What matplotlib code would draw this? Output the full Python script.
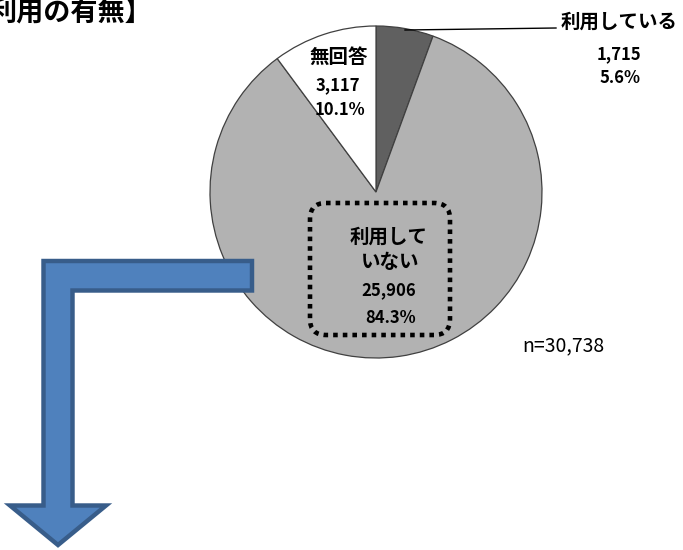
import matplotlib
matplotlib.use("Agg")
import matplotlib.pyplot as plt
from matplotlib.patches import Polygon, FancyBboxPatch

plt.rcParams['font.family'] = ['Noto Sans CJK JP', 'DejaVu Sans']

# Data
categories = ["利用している", "利用していない", "無回答"]
counts = [1715, 25906, 3117]
percents = [5.6, 84.3, 10.1]
total_label = "n=30,738"
title = "利用の有無】"

colors = ["#606060", "#B2B2B2", "#FFFFFF"]

W, H = 683, 550
fig = plt.figure(figsize=(W / 100, H / 100), dpi=100)
ax = fig.add_axes([0, 0, 1, 1])

# Pixel-like coordinate system (y grows downward), so the pie starts at -90
# and runs "counterclockwise" in data space, which is clockwise on screen.
cx, cy, r = 376, 192, 166
ax.pie(counts, colors=colors, startangle=-90, counterclock=True,
       center=(cx, cy), radius=r, frame=True,
       wedgeprops=dict(edgecolor="#404040", linewidth=0.9))
ax.set_xlim(0, W)
ax.set_ylim(H, 0)
ax.set_aspect("equal")
ax.axis("off")

def fmt(n):
    return f"{n:,}"

# Title (partially clipped at the left edge)
ax.text(-11, 13, title, fontsize=19.5, fontweight="bold", ha="left", va="center")

# Label for the small dark slice with a leader line
ax.plot([405, 556], [30, 28], color="black", lw=1.0, zorder=5)
ax.text(619, 22, categories[0], fontsize=14, fontweight="bold", ha="center", va="center")
ax.text(619, 54, fmt(counts[0]), fontsize=12, fontweight="bold", ha="center", va="center")
ax.text(620, 78, f"{percents[0]}%", fontsize=12, fontweight="bold", ha="center", va="center")

# Label for the no-answer slice
ax.text(339, 57, categories[2], fontsize=14, fontweight="bold", ha="center", va="center", zorder=5)
ax.text(338, 85, fmt(counts[2]), fontsize=12, fontweight="bold", ha="center", va="center", zorder=5)
ax.text(340, 110, f"{percents[2]}%", fontsize=12, fontweight="bold", ha="center", va="center", zorder=5)

# Dotted rounded box around the main slice label
box = FancyBboxPatch((310, 203), 140, 132,
                     boxstyle="round,pad=0,rounding_size=16",
                     facecolor="none", edgecolor="black",
                     linewidth=3.3, linestyle=(0, (1, 1.1)), zorder=5)
ax.add_patch(box)
ax.text(389, 237, "利用して", fontsize=14, fontweight="bold", ha="center", va="center", zorder=6)
ax.text(390, 263, "いない", fontsize=14, fontweight="bold", ha="center", va="center", zorder=6)
ax.text(389, 290, fmt(counts[1]), fontsize=12, fontweight="bold", ha="center", va="center", zorder=6)
ax.text(391, 318, f"{percents[1]}%", fontsize=12, fontweight="bold", ha="center", va="center", zorder=6)

# Sample size
ax.text(563, 346, total_label, fontsize=14, ha="center", va="center")

# Bent arrow pointing down
arrow_pts = [(43.5, 261), (252, 261), (252, 290.5), (72.5, 290.5),
             (72.5, 505.5), (106, 505.5), (58, 545), (10, 505.5),
             (43.5, 505.5)]
ax.add_patch(Polygon(arrow_pts, closed=True, facecolor="#4F81BD",
                     edgecolor="#385D8A", linewidth=3.2, joinstyle="miter",
                     zorder=7))

fig.savefig("out.png", dpi=100)
